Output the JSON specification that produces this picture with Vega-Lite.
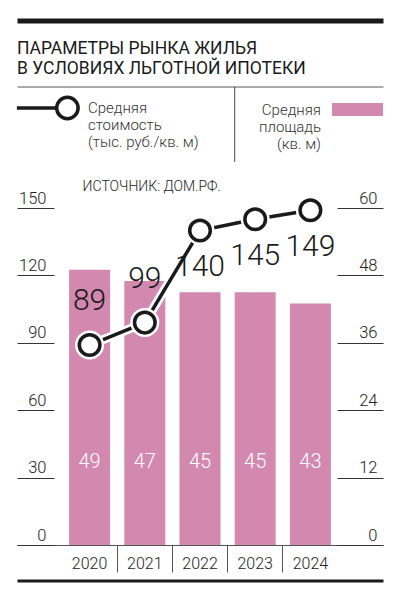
{
  "$schema": "https://vega.github.io/schema/vega-lite/v6.json",
  "width": 366,
  "height": 337,
  "autosize": {"type": "none"},
  "padding": {"left": 17, "right": 14, "top": 208, "bottom": 55},
  "background": "white",
  "config": {"view": {"stroke": null}, "font": "Roboto", "axis": {"grid": false}},
  "title": {
    "text": ["ПАРАМЕТРЫ РЫНКА ЖИЛЬЯ", "В УСЛОВИЯХ ЛЬГОТНОЙ ИПОТЕКИ"],
    "anchor": "start",
    "frame": "group",
    "font": "Roboto",
    "fontSize": 17.5,
    "fontWeight": "normal",
    "color": "#1a1a1a",
    "lineHeight": 20,
    "offset": -57
  },
  "data": {
    "values": [
      {"year": "2020", "cost": 89, "area": 49},
      {"year": "2021", "cost": 99, "area": 47},
      {"year": "2022", "cost": 140, "area": 45},
      {"year": "2023", "cost": 145, "area": 45},
      {"year": "2024", "cost": 149, "area": 43}
    ]
  },
  "layer": [
    {
      "mark": {"type": "bar", "color": "#d388b0"},
      "encoding": {
        "x": {
          "field": "year", "type": "nominal",
          "scale": {"paddingInner": 0.257, "paddingOuter": 0.944},
          "axis": {
            "orient": "bottom", "title": null, "domain": true, "domainColor": "#555", "domainWidth": 1,
            "ticks": false, "labelAngle": 0, "labelFont": "Roboto", "labelFontWeight": 300,
            "labelFontSize": 16, "labelColor": "#222", "labelPadding": 10, "labelBaseline": "top"
          }
        },
        "y": {
          "field": "area", "type": "quantitative",
          "scale": {"domain": [0, 60], "nice": false},
          "axis": {
            "orient": "right", "title": null, "domain": false, "grid": false,
            "values": [0, 12, 24, 36, 48, 60], "tickSize": -46, "tickColor": "#333", "tickWidth": 1,
            "labelAlign": "right", "labelBaseline": "alphabetic", "labelOffset": -5, "labelPadding": 40,
            "labelFont": "Roboto", "labelFontWeight": 300, "labelFontSize": 16.5, "labelColor": "#222"
          }
        },
        "color": {
          "datum": "Средняя площадь (кв. м)",
          "scale": {"range": ["#d388b0"]},
          "legend": {
            "orient": "none", "legendX": 315, "legendY": -124, "title": null, "padding": 0,
            "symbolType": "M-1,-0.255H1V0.255H-1Z", "symbolSize": 2601, "symbolStrokeWidth": 0,
            "labelAlign": "right", "labelOffset": -62, "labelFont": "Roboto", "labelFontWeight": 300, "labelFontSize": 15,
            "labelColor": "#333", "labelLimit": 300,
            "labelExpr": "['Средняя', 'площадь', '(кв. м)']"
          }
        }
      }
    },
    {
      "mark": {"type": "text", "font": "Roboto", "fontWeight": 300, "fontSize": 20, "color": "white", "baseline": "middle"},
      "encoding": {
        "x": {
          "field": "year", "type": "nominal",
          "axis": {
            "orient": "bottom", "title": null, "domain": false, "labels": false, "ticks": true,
            "tickSize": 27, "tickColor": "#555", "tickWidth": 1, "bandPosition": 1.173,
            "values": ["2020", "2021", "2022", "2023"]
          }
        },
        "y": {"datum": 14.8, "type": "quantitative", "scale": {"domain": [0, 60], "nice": false}, "axis": null},
        "text": {"field": "area", "type": "quantitative"}
      }
    },
    {
      "mark": {"type": "line", "color": "white", "strokeWidth": 9},
      "encoding": {
        "x": {
          "field": "year", "type": "nominal",
          "axis": {"orient": "top", "offset": 187.5, "title": null, "domain": true, "domainColor": "#1a1a1a", "domainWidth": 5, "ticks": false, "labels": false}
        },
        "y": {
          "field": "cost", "type": "quantitative",
          "scale": {"domain": [0, 150], "nice": false},
          "axis": {
            "orient": "left", "offset": -37, "title": null, "domain": false, "grid": false,
            "values": [0, 30, 60, 90, 120, 150], "tickSize": 37, "tickColor": "#333", "tickWidth": 1,
            "labelAlign": "right", "labelBaseline": "alphabetic", "labelOffset": -5, "labelPadding": -29,
            "labelFont": "Roboto", "labelFontWeight": 300, "labelFontSize": 16.5, "labelColor": "#222"
          }
        }
      }
    },
    {
      "mark": {"type": "line", "strokeWidth": 3.5},
      "encoding": {
        "x": {
          "field": "year", "type": "nominal",
          "axis": {"orient": "top", "offset": 121.5, "title": null, "domain": true, "domainColor": "#555", "domainWidth": 1, "ticks": false, "labels": false}
        },
        "y": {"field": "cost", "type": "quantitative", "scale": {"domain": [0, 150], "nice": false}, "axis": null},
        "color": {
          "datum": "Средняя стоимость (тыс. руб./кв. м)",
          "scale": {"range": ["#1a1a1a"]},
          "legend": {
            "orient": "none", "legendX": -2, "legendY": -132.5, "title": null, "padding": 0,
            "symbolType": "M-1,0L0.3,0M0.3,0A0.35,0.35,0,1,0,1,0A0.35,0.35,0,1,0,0.3,0Z",
            "symbolSize": 3745, "symbolStrokeWidth": 3.5, "symbolStrokeColor": "#1a1a1a",
            "labelOffset": 8, "labelFont": "Roboto", "labelFontWeight": 300, "labelFontSize": 15, "labelColor": "#333", "labelLimit": 300,
            "labelExpr": "['Средняя', 'стоимость', '(тыс. руб./кв. м)']"
          }
        }
      }
    },
    {
      "mark": {"type": "point", "filled": true, "color": "white", "size": 841, "opacity": 1},
      "encoding": {
        "x": {
          "field": "year", "type": "nominal",
          "axis": {"orient": "bottom", "offset": 35.5, "title": null, "domain": true, "domainColor": "#1a1a1a", "domainWidth": 3, "ticks": false, "labels": false}
        },
        "y": {"field": "cost", "type": "quantitative", "scale": {"domain": [0, 150], "nice": false}, "axis": null}
      }
    },
    {
      "mark": {"type": "point", "filled": true, "fill": "white", "stroke": "#1a1a1a", "strokeWidth": 3.5, "size": 424, "opacity": 1},
      "encoding": {
        "x": {"field": "year", "type": "nominal", "axis": null},
        "y": {"field": "cost", "type": "quantitative", "scale": {"domain": [0, 150], "nice": false}, "axis": null}
      }
    },
    {
      "transform": [{"filter": "datum.cost < 120"}],
      "mark": {"type": "text", "font": "Roboto", "fontWeight": 300, "fontSize": 30, "dy": -44, "color": "#1a1a1a", "baseline": "middle"},
      "encoding": {
        "x": {"field": "year", "type": "nominal", "axis": null},
        "y": {"field": "cost", "type": "quantitative", "scale": {"domain": [0, 150], "nice": false}, "axis": null},
        "text": {"field": "cost", "type": "quantitative"}
      }
    },
    {
      "transform": [{"filter": "datum.cost >= 120"}],
      "mark": {"type": "text", "font": "Roboto", "fontWeight": 300, "fontSize": 30, "dy": 37, "color": "#1a1a1a", "baseline": "middle"},
      "encoding": {
        "x": {"field": "year", "type": "nominal", "axis": null},
        "y": {"field": "cost", "type": "quantitative", "scale": {"domain": [0, 150], "nice": false}, "axis": null},
        "text": {"field": "cost", "type": "quantitative"}
      }
    },
    {
      "data": {"values": [{"note": "ИСТОЧНИК: ДОМ.РФ."}]},
      "mark": {"type": "text", "align": "left", "baseline": "middle", "font": "Roboto", "fontWeight": 300, "fontSize": 14, "color": "#222", "dx": -7},
      "encoding": {
        "x": {"datum": "2020", "type": "nominal", "axis": null},
        "y": {"datum": 159.3, "type": "quantitative", "scale": {"domain": [0, 150], "nice": false}, "axis": null},
        "text": {"field": "note", "type": "nominal"}
      }
    },
    {
      "data": {"values": [{"divider": "legend"}]},
      "mark": {"type": "rule", "color": "#444", "strokeWidth": 1},
      "encoding": {
        "x": {"datum": "2023", "type": "nominal", "bandPosition": 0, "axis": null},
        "y": {"datum": 203.9, "type": "quantitative", "scale": {"domain": [0, 150], "nice": false}, "axis": null},
        "y2": {"datum": 170.5}
      }
    }
  ],
  "resolve": {
    "scale": {"y": "independent", "color": "independent"},
    "axis": {"x": "independent", "y": "independent"}
  }
}
